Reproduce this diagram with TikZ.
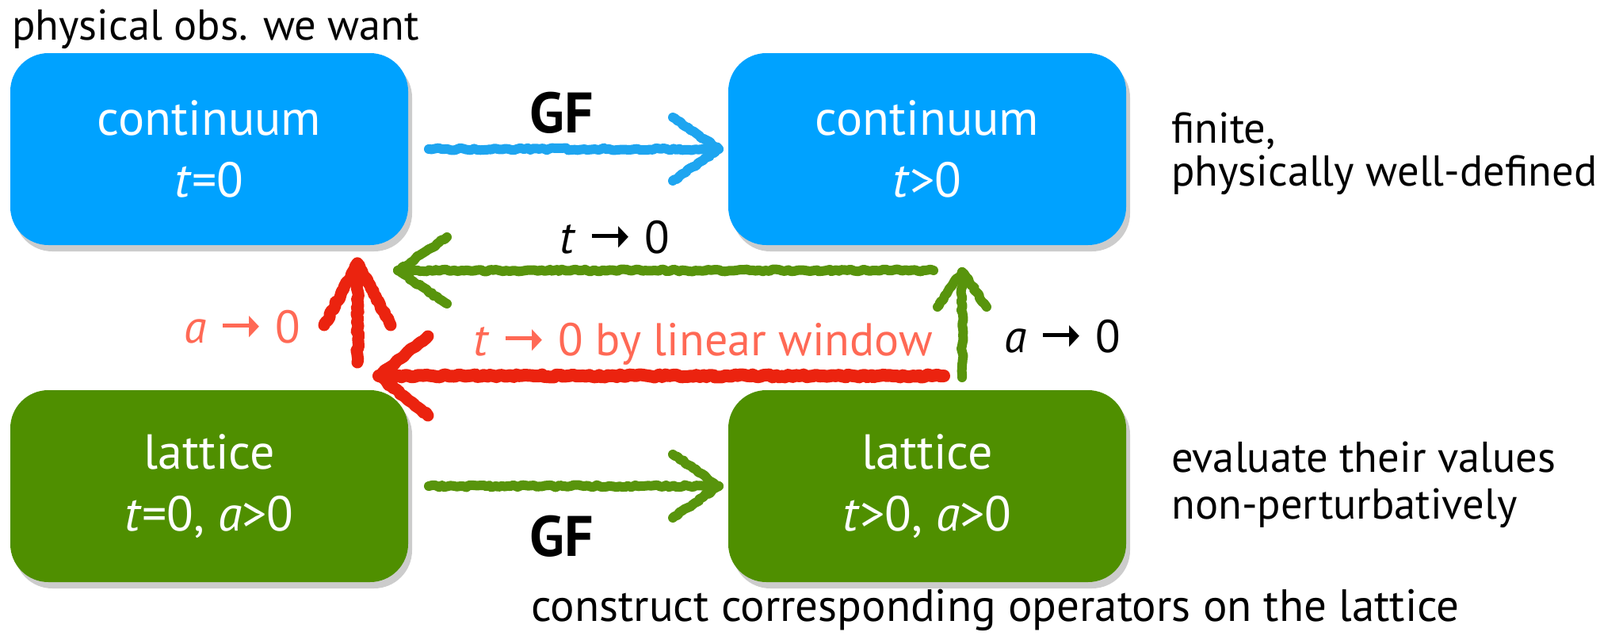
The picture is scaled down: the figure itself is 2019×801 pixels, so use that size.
\documentclass[tikz,border=0pt]{standalone}
\usepackage{fontspec}
\setmainfont{PT Sans}
\newfontfamily\dejavu{DejaVu Sans}
\usetikzlibrary{shadows,decorations.pathmorphing}
\definecolor{boxblue}{RGB}{0,162,255}
\definecolor{boxgreen}{RGB}{79,143,0}
\definecolor{arrblue}{RGB}{30,165,240}
\definecolor{arrgreen}{RGB}{88,148,12}
\definecolor{arrred}{RGB}{235,35,15}
\definecolor{lblred}{RGB}{255,105,85}
\newcommand{\myto}{\hspace{20pt}\raisebox{19.5pt}{\rule{36pt}{5pt}}\hspace{-2pt}\raisebox{10.5pt}{\resizebox{13pt}{23pt}{\dejavu\char"25B6}}\hspace{20pt}}
\begin{document}
\begin{tikzpicture}[x=1pt,y=-1pt,
  box/.style={rounded corners=48pt, minimum width=502pt, minimum height=242pt,
    align=center, text=white, inner sep=0pt, font=\fontsize{62}{78}\selectfont,
    drop shadow={shadow xshift=5pt, shadow yshift=-8pt, opacity=0.4}},
  sidetext/.style={anchor=base west, inner sep=0pt, font=\fontsize{54.5}{60}\selectfont},
  lbl/.style={inner sep=0pt, font=\fontsize{58}{60}\selectfont},
  gf/.style={inner sep=0pt, font=\fontsize{72}{76}\selectfont\bfseries},
  chalk/.style={line width=12pt, line cap=round, line join=round, decorate,
    decoration={random steps, segment length=4pt, amplitude=1.5pt}},
]
\useasboundingbox (0,0) rectangle (2019,801);

% boxes
\node[box, fill=boxblue] (c0) at (264,188) {continuum\\\textit{t}=0};
\node[box, fill=boxblue] (c1) at (1170,188) {continuum\\\textit{t}>0};
\node[box, fill=boxgreen] (l0) at (264,613) {lattice\\\textit{t}=0, \textit{a}>0};
\node[box, fill=boxgreen] (l1) at (1170,613) {lattice\\\textit{t}>0, \textit{a}>0};

% side texts
\node[sidetext] (phys) at (15,50) {physical obs. we want};
\node[sidetext] (fin1) at (1478,180) {finite,};
\node[sidetext] (fin2) at (1478,234) {physically well-defined};
\node[sidetext] (ev1) at (1478,595) {evaluate their values};
\node[sidetext] (ev2) at (1478,654) {non-perturbatively};
\node[sidetext, font=\fontsize{57}{60}\selectfont] (cons) at (670,783) {construct corresponding operators on the lattice};

% arrow coordinates
\coordinate (gfAs) at (541,188);  \coordinate (gfAt) at (907,188);
\coordinate (gfBs) at (541,613);  \coordinate (gfBt) at (907,613);
\coordinate (tgs) at (1178,341);  \coordinate (tgt) at (502,341);
\coordinate (trs) at (1191,474);  \coordinate (trt) at (478,474);
\coordinate (ars) at (451,457);   \coordinate (art) at (451,332);
\coordinate (ags) at (1214,476);  \coordinate (agt) at (1214,343);

% blue GF arrow
\draw[chalk, arrblue] (gfAs) -- (gfAt);
\draw[chalk, arrblue] ([shift={(-58,-40)}]gfAt) -- (gfAt) -- ([shift={(-58,40)}]gfAt);
% green GF arrow
\draw[chalk, arrgreen] (gfBs) -- (gfBt);
\draw[chalk, arrgreen] ([shift={(-58,-40)}]gfBt) -- (gfBt) -- ([shift={(-58,40)}]gfBt);
% green t->0 arrow
\draw[chalk, arrgreen] (tgs) -- (tgt);
\draw[chalk, arrgreen] ([shift={(62,-42)}]tgt) -- (tgt) -- ([shift={(62,42)}]tgt);
% red t->0 arrow
\draw[chalk, arrred, line width=16pt] (trs) -- (trt);
\draw[chalk, arrred, line width=15pt] ([shift={(62,-50)}]trt) -- (trt) -- ([shift={(62,50)}]trt);
% red up arrow
\draw[chalk, arrred, line width=15pt] (ars) -- (art);
\draw[chalk, arrred, line width=15pt] ([shift={(-42,78)}]art) -- (art) -- ([shift={(42,78)}]art);
% green up arrow
\draw[chalk, arrgreen] (ags) -- (agt);
\draw[chalk, arrgreen] ([shift={(-31,44)}]agt) -- (agt) -- ([shift={(31,44)}]agt);

% labels
\node[gf] (gf1) at (709,142) {GF};
\node[gf] (gf2) at (709,676) {GF};
\node[lbl] (lt) at (776,299) {\textit{t}\myto 0};
\node[lbl, text=lblred] (ltr) at (887,434) {\textit{t}\myto 0 by linear window};
\node[lbl, text=lblred] (lar) at (306,412) {\textit{a}\myto 0};
\node[lbl] (lag) at (1341,424) {\textit{a}\myto 0};
\end{tikzpicture}
\end{document}
